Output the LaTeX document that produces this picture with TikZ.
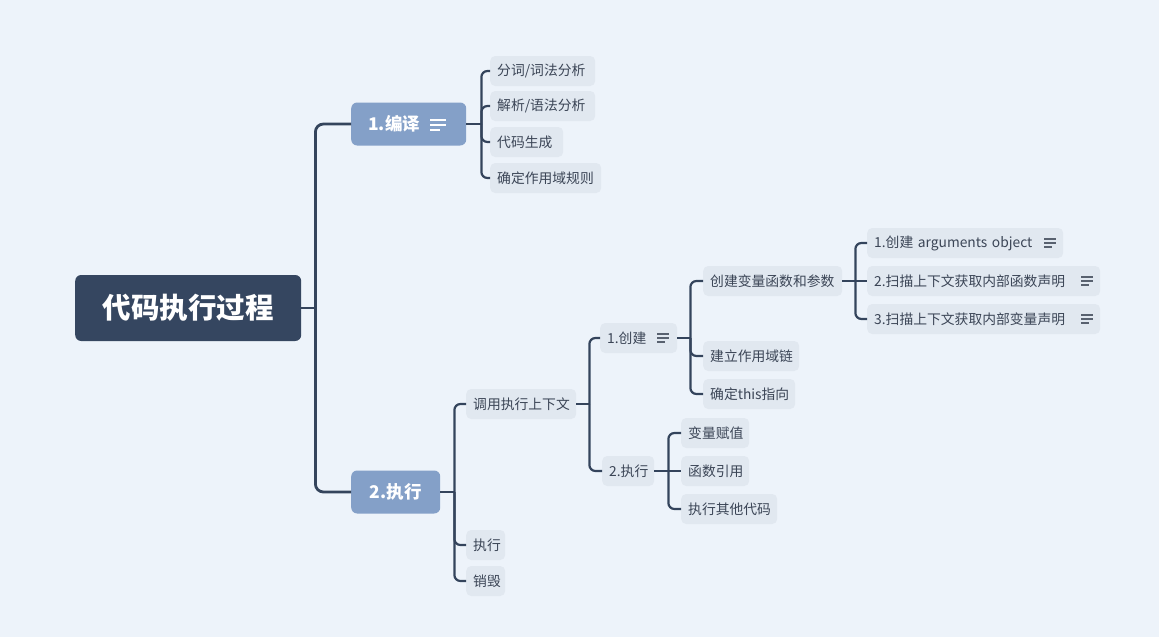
\documentclass[tikz,border=0pt]{standalone}
\usepackage{fontspec}
\newfontfamily\cjk{Noto Sans CJK SC}
\definecolor{bgc}{HTML}{EDF3FA}
\definecolor{leaffill}{HTML}{E1E8F0}
\definecolor{rootfill}{HTML}{354660}
\definecolor{midfill}{HTML}{84A0C8}
\definecolor{linec}{HTML}{34445C}
\definecolor{txtc}{HTML}{3B4556}
\begin{document}
\begin{tikzpicture}[x=1pt,y=-1pt,
  leaf/.style={rectangle, rounded corners=5pt, fill=leaffill, inner xsep=7pt, inner ysep=0pt,
    minimum height=30pt, anchor=west, align=left, text=txtc,
    font=\cjk\fontsize{13.8}{16}\selectfont},
  midnode/.style={rectangle, rounded corners=6pt, fill=midfill, inner xsep=0pt, inner ysep=0pt,
    minimum height=43pt, anchor=west, text=white, font=\cjk\bfseries\fontsize{17.5}{20}\selectfont},
  rootnode/.style={rectangle, rounded corners=6pt, fill=rootfill, inner sep=0pt,
    minimum height=66pt, minimum width=226pt, anchor=west, text=white,
    font=\cjk\bfseries\fontsize{28.5}{32}\selectfont},
  conn/.style={draw=linec, line width=2.2pt, rounded corners=6pt},
  connroot/.style={draw=linec, line width=2.8pt, rounded corners=8pt},
  icon/.style={draw=txtc!85, line width=1.2pt},
  iconw/.style={draw=white, line width=1.5pt}
]
\path[fill=bgc, use as bounding box] (0,0) rectangle (1159,637);

% root and main branches
\node[rootnode] (root) at (75,308) {代码执行过程};
\node[midnode, minimum width=115pt, text width=115pt, align=left] (m1) at (351,124) {\hspace*{17pt}1.编译};
\node[midnode, minimum width=89pt] (m2) at (351,492) {2.执行};

% compile children
\node[leaf, text width=91pt] (a1) at (490,71) {分词/词法分析};
\node[leaf, text width=91pt] (a2) at (490,106) {解析/语法分析};
\node[leaf, text width=59pt] (a3) at (490,142) {代码生成};
\node[leaf, text width=97pt] (a4) at (490,178) {确定作用域规则};

% execute children
\node[leaf, text width=96pt] (b1) at (466,404) {调用执行上下文};
\node[leaf, text width=25pt] (b2) at (466,545) {执行};
\node[leaf, text width=25pt] (b3) at (466,581) {销毁};

\node[leaf, text width=63pt] (c1) at (600,338) {1.创建};
\node[leaf, text width=38pt] (c2) at (602,471) {2.执行};

\node[leaf, text width=125pt] (d1) at (703,281) {创建变量函数和参数};
\node[leaf, text width=82pt] (d2) at (703,356) {建立作用域链};
\node[leaf, text width=78pt] (d3) at (703,394) {确定this指向};

\node[leaf, text width=182pt] (e1) at (867,243) {1.创建 arguments object};
\node[leaf, text width=219pt] (e2) at (867,281) {2.扫描上下文获取内部函数声明};
\node[leaf, text width=219pt] (e3) at (867,319) {3.扫描上下文获取内部变量声明};

\node[leaf, text width=54pt] (f1) at (681,433) {变量赋值};
\node[leaf, text width=54pt] (f2) at (681,471) {函数引用};
\node[leaf, text width=82pt] (f3) at (681,509) {执行其他代码};

% icons
\foreach \n/\d in {c1/8, e1/7, e2/7, e3/7}{
  \draw[icon] ([xshift=-\d pt-12pt, yshift=4pt]\n.east) -- ++(12,0);
  \draw[icon] ([xshift=-\d pt-12pt]\n.east) -- ++(12,0);
  \draw[icon] ([xshift=-\d pt-12pt, yshift=-4pt]\n.east) -- ++(8,0);
}
\draw[iconw] ([xshift=-36pt, yshift=4pt]m1.east) -- ++(16,0);
\draw[iconw] ([xshift=-36pt, yshift=-1pt]m1.east) -- ++(16,0);
\draw[iconw] ([xshift=-36pt, yshift=-6pt]m1.east) -- ++(10,0);

% connectors: root
\coordinate (t0) at ([xshift=14pt]root.east);
\draw[connroot] (root.east) -- (t0);
\draw[connroot] (t0) |- (m1.west);
\draw[connroot] (t0) |- (m2.west);

% m1
\coordinate (t1) at ([xshift=15pt]m1.east);
\draw[conn] (m1.east) -- (t1);
\foreach \c in {a1,a2,a3,a4} \draw[conn] (t1) |- (\c.west);

% m2
\coordinate (t2) at ([xshift=14pt]m2.east);
\draw[conn] (m2.east) -- (t2);
\foreach \c in {b1,b2,b3} \draw[conn] (t2) |- (\c.west);

% b1
\coordinate (t3) at ([xshift=13pt]b1.east);
\draw[conn] (b1.east) -- (t3);
\draw[conn] (t3) |- (c1.west);
\draw[conn] (t3) |- (c2.west);

% c1
\coordinate (t4) at ([xshift=13pt]c1.east);
\draw[conn] (c1.east) -- (t4);
\foreach \c in {d1,d2,d3} \draw[conn] (t4) |- (\c.west);

% d1
\coordinate (t5) at ([xshift=13pt]d1.east);
\draw[conn] (d1.east) -- (e2.west);
\draw[conn] (t5) |- (e1.west);
\draw[conn] (t5) |- (e3.west);

% c2
\coordinate (t6) at ([xshift=14pt]c2.east);
\draw[conn] (c2.east) -- (f2.west);
\draw[conn] (t6) |- (f1.west);
\draw[conn] (t6) |- (f3.west);
\end{tikzpicture}
\end{document}
